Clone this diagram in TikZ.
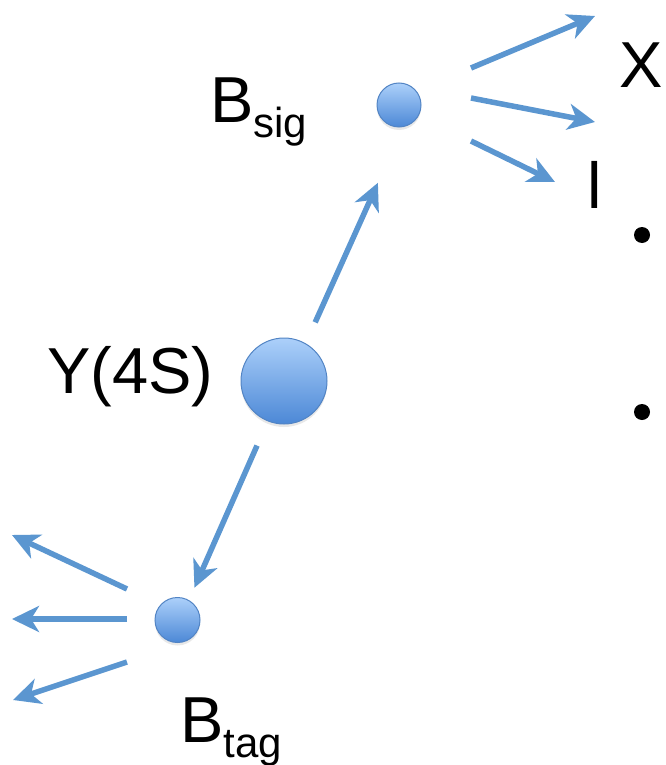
\documentclass[tikz,border=0pt]{standalone}
\usepackage{fontspec}
\setmainfont{Liberation Sans}
\usetikzlibrary{arrows.meta, shadows}

\definecolor{arrblue}{RGB}{91,150,208}
\definecolor{balltop}{RGB}{172,208,250}
\definecolor{ballbot}{RGB}{76,136,214}
\definecolor{ballrim}{RGB}{82,132,196}
\newcommand{\subtxt}[1]{\raisebox{-15pt}{\fontsize{42}{48}\selectfont #1}}

\begin{document}
\begin{tikzpicture}[x=1pt, y=-1pt,
    ball/.style={circle, inner sep=0pt, draw=ballrim, line width=1pt,
        top color=balltop, bottom color=ballbot,
        drop shadow={opacity=0.18, shadow xshift=0pt, shadow yshift=-3pt}},
    arr/.style={draw=arrblue, line width=5.5pt,
        -{Stealth[length=27pt, width=26pt, inset=8pt]}},
    lbl/.style={inner sep=0pt, anchor=base west, font=\fontsize{65}{78}\selectfont}]
    \useasboundingbox (0,0) rectangle (666,765);

    % Particles
    \node[ball, minimum size=86pt] (y4s) at (284,381) {};
    \node[ball, minimum size=44pt] (bsig) at (399,105) {};
    \node[ball, minimum size=45pt] (btag) at (177.5,620) {};

    % Labels
    \node[lbl] (lblY) at (47,393) {Y(4S)};
    \node[lbl] (lblsig) at (210,122) {B\subtxt{sig}};
    \node[lbl] (lbltag) at (180,742) {B\subtxt{tag}};
    \node[lbl] (lblX) at (619,88) {X};
    \node[lbl] (lbll) at (587,208) {l};

    % Decay of Y(4S)
    \draw[arr, shorten <=23pt, shorten >=61pt] (y4s.60) -- (bsig.280);
    \draw[arr, shorten <=26.5pt, shorten >=13.5pt] (y4s.248) -- (btag.60);

    % B_sig products
    \coordinate (s1a) at (471,68);  \coordinate (s1b) at (595,16);
    \coordinate (s2a) at (471,98);  \coordinate (s2b) at (595,122);
    \coordinate (s3a) at (471,141); \coordinate (s3b) at (555,182);
    \draw[arr] (s1a) -- (s1b);
    \draw[arr] (s2a) -- (s2b);
    \draw[arr] (s3a) -- (s3b);

    % B_tag products
    \coordinate (t1a) at (127,589); \coordinate (t1b) at (12,535);
    \coordinate (t2a) at (127,619); \coordinate (t2b) at (12,619);
    \coordinate (t3a) at (127,662); \coordinate (t3b) at (13,700);
    \draw[arr] (t1a) -- (t1b);
    \draw[arr] (t2a) -- (t2b);
    \draw[arr] (t3a) -- (t3b);

    % Bullets (cut off at the edge)
    \node[circle, fill=black, inner sep=0pt, minimum size=16pt] (bul1) at (642,235) {};
    \node[circle, fill=black, inner sep=0pt, minimum size=16pt] (bul2) at (642,412) {};
\end{tikzpicture}
\end{document}
